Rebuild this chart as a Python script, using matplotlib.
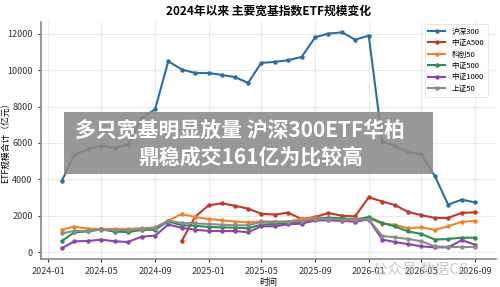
import pandas as pd
import matplotlib
matplotlib.use('Agg')
import matplotlib.pyplot as plt
from matplotlib.patches import Rectangle

plt.rcParams['font.family'] = ['Noto Sans CJK SC', 'DejaVu Sans']
plt.rcParams['axes.unicode_minus'] = False

months = pd.date_range('2024-02-01', '2026-09-01', freq='MS')

hs300 = [3900, 5360, 5670, 5850, 5730, 5910, 7350, 7850, 10480, 10030, 9840,
         9840, 9730, 9620, 9300, 10390, 10450, 10540, 10720, 11800, 12000, 12070, 11670,
         11890, 6090, 5850, 5490, 5380, 4170, 2620, 2890, 2740]
a500 = [640, 1950,
        2580, 2690, 2560, 2400, 2120, 2070, 2180, 1830, 1940, 2160, 2010, 1975,
        3020, 2790, 2600, 2220, 2040, 1890, 1890, 2170, 2195]
kc50 = [1245, 1410, 1300, 1285, 1285, 1285, 1320, 1370, 1740, 2107, 1940,
        1830, 1760, 1690, 1650, 1700, 1690, 1690, 1850, 1900, 1880, 1840, 1840,
        1860, 1575, 1520, 1320, 1370, 1240, 1430, 1680, 1720]
zz500 = [625, 1100, 1150, 1260, 1135, 1110, 1230, 1245, 1700, 1485, 1465,
         1390, 1370, 1355, 1320, 1520, 1560, 1610, 1670, 1830, 1900, 1870, 1790,
         1940, 1610, 1430, 1150, 1010, 700, 735, 805, 805]
zz1000 = [220, 605, 625, 700, 605, 570, 860, 915, 1530, 1340, 1245,
          1175, 1175, 1175, 1100, 1430, 1430, 1540, 1575, 1750, 1760, 1720, 1685,
          1800, 700, 570, 450, 330, 275, 275, 670, 420]
sz50 = [1040, 1175, 1175, 1245, 1230, 1210, 1285, 1340, 1740, 1610, 1595,
        1555, 1520, 1485, 1485, 1665, 1665, 1690, 1730, 1830, 1830, 1800, 1800,
        1810, 900, 825, 735, 605, 330, 295, 295, 295]

series = [
    ('沪深300', months, hs300, '#2e6e9e'),
    ('中证A500', months[-len(a500):], a500, '#c0392b'),
    ('科创50', months, kc50, '#ec8530'),
    ('中证500', months, zz500, '#2e8b57'),
    ('中证1000', months, zz1000, '#8e44ad'),
    ('上证50', months, sz50, '#8c8c8c'),
]

fig = plt.figure(figsize=(5, 2.87), dpi=100)
ax = fig.add_axes([0.082, 0.097, 0.91, 0.828])

for name, x, y, c in series:
    ax.plot(x, y, color=c, lw=1.5, marker='o', ms=2.2, label=name)

ax.grid(True, color='#e6e6e6', lw=0.6)
ax.set_axisbelow(True)
for s in ['top', 'right']:
    ax.spines[s].set_visible(False)
for s in ['left', 'bottom']:
    ax.spines[s].set_color('#888888')
    ax.spines[s].set_linewidth(1.2)
ax.tick_params(labelsize=6.5, length=2.5, colors='#333333')

ax.set_xticks(pd.date_range('2024-01-01', '2026-09-01', freq='4MS'))
ax.xaxis.set_major_formatter(matplotlib.dates.DateFormatter('%Y-%m'))
ax.set_yticks([0, 2000, 4000, 6000, 8000, 10000, 12000])

ax.set_title('2024年以来 主要宽基指数ETF规模变化', fontsize=8.5, fontweight='bold', pad=5)
ax.set_xlabel('时间', fontsize=6.5, labelpad=1)
ax.set_ylabel('ETF规模合计（亿元）', fontsize=6.3)
ax.yaxis.set_label_coords(-0.068, 0.5)

leg = ax.legend(loc='upper right', fontsize=5.5, frameon=True, handlelength=2.2,
                borderpad=0.5, labelspacing=0.45, borderaxespad=0,
                bbox_to_anchor=(0.982, 0.99))
leg.get_frame().set_edgecolor('#dddddd')
leg.get_frame().set_linewidth(0.6)

# overlay banner
fig.patches.append(Rectangle((64 / 500, 1 - 174 / 287), (433 - 64) / 500, (174 - 112) / 287,
                             transform=fig.transFigure, facecolor='#8a8a8a', alpha=0.88,
                             edgecolor='none', zorder=5))
fig.text(0.48, 1 - 130 / 287, '多只宽基明显放量 沪深300ETF华柏', fontsize=15,
         fontweight='bold', color='white', ha='center', va='center', zorder=6)
fig.text(0.502, 1 - 157 / 287, '鼎稳成交161亿为比较高', fontsize=15,
         fontweight='bold', color='white', ha='center', va='center', zorder=6)

# watermark
fig.text(0.84, 1 - 270 / 287, '公众号 数据CC', fontsize=10.5, color='#bbbbbb',
         alpha=0.8, ha='center', va='center', zorder=6)

fig.savefig('out.png', dpi=100)
